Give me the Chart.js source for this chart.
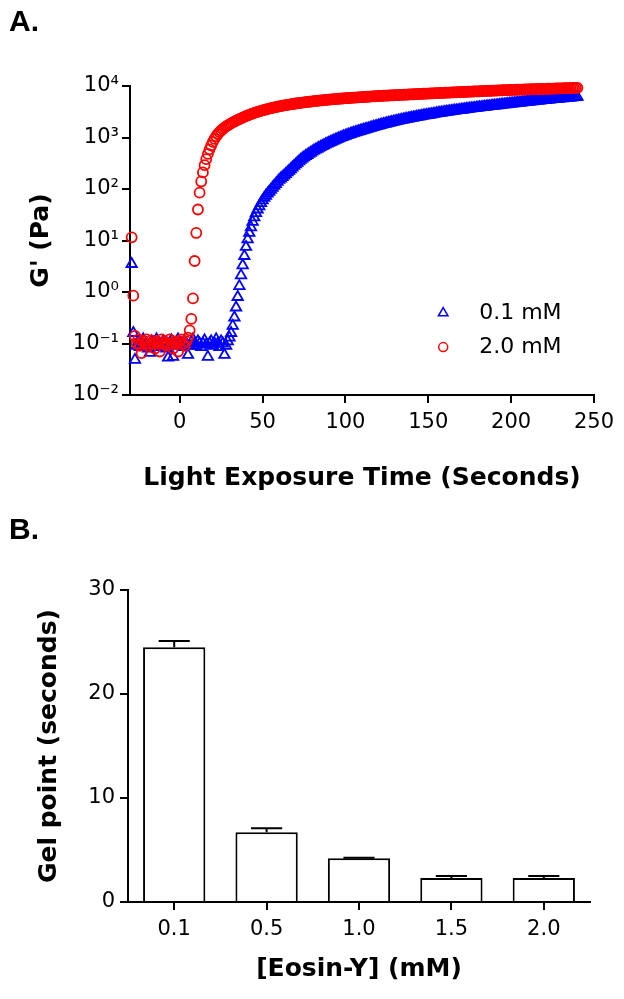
<!DOCTYPE html>
<html lang="en">
  <head>
    <meta charset="utf-8" />
    <title>gel kinetics</title>
    <script src="https://cdn.jsdelivr.net/npm/chart.js@4.4.1/dist/chart.umd.min.js"></script>
    <style>
      body { margin: 0; background: #fff; }
      #wrap { position: relative; width: 624px; height: 999px; overflow: hidden; }
      canvas { position: absolute; left: 0; }
      #chartA { top: 0; }
      #chartB { top: 500px; }
      .panel { position: absolute; left: 9px; font: bold 30px 'Liberation Sans', Arial, sans-serif; line-height: 30px; }
    </style>
  </head>
  <body>
    <div id="wrap">
      <canvas id="chartA" width="624" height="500"></canvas>
      <canvas id="chartB" width="624" height="499"></canvas>
      <div class="panel" style="top:6px">A.</div>
      <div class="panel" style="top:514px">B.</div>
    </div>

    <script>
      // panel A: storage modulus vs light exposure time
      const timeA = [
        -29, -28, -27, -26, -25, -24, -23, -22, -21, -20,
        -19, -18, -17, -16, -15, -14, -13, -12, -11, -10,
        -9, -8, -7, -6, -5, -4, -3, -2, -1, 0,
        1, 2, 3, 4, 5, 6, 7, 8, 9, 10,
        11, 12, 13, 14, 15, 16, 17, 18, 19, 20,
        21, 22, 23, 24, 25, 26, 27, 28, 29, 30,
        31, 32, 33, 34, 35, 36, 37, 38, 39, 40,
        41, 42, 43, 44, 45, 46, 47, 48, 49, 50,
        51, 52, 53, 54, 55, 56, 57, 58, 59, 60,
        61, 62, 63, 64, 65, 66, 67, 68, 69, 70,
        71, 72, 73, 74, 75, 76, 77, 78, 79, 80,
        81, 82, 83, 84, 85, 86, 87, 88, 89, 90,
        91, 92, 93, 94, 95, 96, 97, 98, 99, 100,
        101, 102, 103, 104, 105, 106, 107, 108, 109, 110,
        111, 112, 113, 114, 115, 116, 117, 118, 119, 120,
        121, 122, 123, 124, 125, 126, 127, 128, 129, 130,
        131, 132, 133, 134, 135, 136, 137, 138, 139, 140,
        141, 142, 143, 144, 145, 146, 147, 148, 149, 150,
        151, 152, 153, 154, 155, 156, 157, 158, 159, 160,
        161, 162, 163, 164, 165, 166, 167, 168, 169, 170,
        171, 172, 173, 174, 175, 176, 177, 178, 179, 180,
        181, 182, 183, 184, 185, 186, 187, 188, 189, 190,
        191, 192, 193, 194, 195, 196, 197, 198, 199, 200,
        201, 202, 203, 204, 205, 206, 207, 208, 209, 210,
        211, 212, 213, 214, 215, 216, 217, 218, 219, 220,
        221, 222, 223, 224, 225, 226, 227, 228, 229, 230,
        231, 232, 233, 234, 235, 236, 237, 238, 239, 240
      ];
      // 0.1 mM eosin-Y
      const gPrime01 = [
        3.5, 0.16, 0.048, 0.09, 0.11, 0.085, 0.1, 0.12, 0.09, 0.1,
        0.08, 0.066, 0.11, 0.095, 0.1, 0.12, 0.085, 0.1, 0.09, 0.11,
        0.1, 0.08, 0.053, 0.1, 0.115, 0.055, 0.09, 0.1, 0.12, 0.095,
        0.1, 0.085, 0.11, 0.1, 0.06, 0.09, 0.105, 0.12, 0.1, 0.09,
        0.11, 0.1, 0.085, 0.1, 0.115, 0.095, 0.055, 0.1, 0.11, 0.09,
        0.1, 0.12, 0.1, 0.085, 0.11, 0.1, 0.06, 0.09, 0.11, 0.13,
        0.16, 0.22, 0.32, 0.5, 0.8, 1.3, 2.1, 3.3, 5, 7.5,
        10.5, 14, 18, 23, 28, 34, 40, 46, 53, 60,
        67, 74, 81, 88, 96, 105, 115, 125, 137, 150,
        160, 170, 182, 195, 210, 225, 242, 260, 280, 300,
        322, 345, 367, 390, 412, 435, 457, 480, 505, 530,
        555, 580, 605, 630, 655, 680, 707, 735, 762, 790,
        817, 845, 872, 900, 930, 960, 990, 1020, 1050, 1080,
        1110, 1140, 1170, 1200, 1230, 1260, 1290, 1320, 1350, 1380,
        1410, 1440, 1470, 1500, 1535, 1570, 1605, 1640, 1675, 1710,
        1745, 1780, 1815, 1850, 1885, 1920, 1955, 1990, 2025, 2060,
        2095, 2130, 2165, 2200, 2235, 2270, 2305, 2340, 2375, 2410,
        2445, 2480, 2515, 2550, 2585, 2620, 2655, 2690, 2725, 2760,
        2795, 2830, 2865, 2900, 2935, 2970, 3005, 3040, 3075, 3110,
        3145, 3180, 3215, 3250, 3285, 3320, 3355, 3390, 3425, 3460,
        3495, 3530, 3565, 3600, 3635, 3670, 3705, 3740, 3775, 3810,
        3845, 3880, 3915, 3950, 3985, 4020, 4055, 4090, 4125, 4160,
        4195, 4230, 4265, 4300, 4340, 4380, 4420, 4460, 4500, 4540,
        4580, 4620, 4660, 4700, 4740, 4780, 4820, 4860, 4900, 4940,
        4980, 5020, 5060, 5100, 5140, 5180, 5220, 5260, 5300, 5340,
        5380, 5420, 5460, 5500, 5540, 5580, 5620, 5660, 5700, 5740,
        5780, 5820, 5860, 5900, 5940, 5980, 6020, 6060, 6100, 6140
      ];
      // 2.0 mM eosin-Y
      const gPrime20 = [
        11.5, 0.85, 0.14, 0.1, 0.12, 0.09, 0.065, 0.11, 0.1, 0.12,
        0.09, 0.1, 0.115, 0.1, 0.08, 0.11, 0.1, 0.07, 0.12, 0.1,
        0.11, 0.09, 0.1, 0.12, 0.1, 0.08, 0.11, 0.1, 0.07, 0.11,
        0.12, 0.1, 0.09, 0.11, 0.13, 0.18, 0.3, 0.75, 4, 14,
        40, 85, 140, 210, 290, 380, 480, 590, 700, 820,
        940, 1060, 1170, 1270, 1370, 1460, 1550, 1640, 1720, 1800,
        1880, 1960, 2040, 2120, 2200, 2280, 2360, 2440, 2520, 2600,
        2680, 2760, 2840, 2920, 3000, 3080, 3150, 3220, 3290, 3360,
        3430, 3500, 3570, 3640, 3705, 3770, 3835, 3900, 3960, 4020,
        4080, 4140, 4195, 4250, 4305, 4360, 4415, 4470, 4520, 4570,
        4620, 4670, 4720, 4770, 4815, 4860, 4905, 4950, 4995, 5040,
        5080, 5120, 5160, 5200, 5240, 5280, 5320, 5360, 5400, 5440,
        5475, 5510, 5545, 5580, 5615, 5650, 5685, 5720, 5755, 5790,
        5820, 5850, 5880, 5910, 5940, 5970, 6000, 6030, 6060, 6090,
        6120, 6150, 6180, 6210, 6240, 6270, 6300, 6330, 6360, 6390,
        6415, 6440, 6465, 6490, 6515, 6540, 6565, 6590, 6615, 6640,
        6665, 6690, 6715, 6740, 6765, 6790, 6815, 6840, 6865, 6890,
        6915, 6940, 6965, 6990, 7015, 7040, 7065, 7090, 7115, 7140,
        7165, 7190, 7215, 7240, 7265, 7290, 7315, 7340, 7365, 7390,
        7415, 7440, 7465, 7490, 7515, 7540, 7565, 7590, 7615, 7640,
        7665, 7690, 7715, 7740, 7765, 7790, 7815, 7840, 7865, 7890,
        7915, 7940, 7965, 7990, 8015, 8040, 8065, 8090, 8115, 8140,
        8165, 8190, 8215, 8240, 8265, 8290, 8315, 8340, 8365, 8390,
        8415, 8440, 8460, 8480, 8500, 8520, 8540, 8560, 8580, 8600,
        8620, 8640, 8660, 8680, 8700, 8720, 8740, 8760, 8780, 8800,
        8820, 8840, 8860, 8880, 8900, 8920, 8940, 8960, 8980, 9000,
        9020, 9040, 9060, 9080, 9100, 9120, 9140, 9160, 9180, 9200
      ];
      const xTicksA = [0, 50, 100, 150, 200, 250];
      const yTicksA = [0.01, 0.1, 1, 10, 100, 1000, 10000];

      // panel B: gel point vs eosin-Y concentration
      const concB = ['0.1', '0.5', '1.0', '1.5', '2.0'];
      const gelPoint = [24.5, 6.7, 4.2, 2.3, 2.3];
      const gelErr = [0.6, 0.4, 0.05, 0.2, 0.2];

      Chart.defaults.font.family = "'DejaVu Sans', sans-serif";
      Chart.defaults.color = '#000';

      const sup = { '-': '\u207B', '0': '\u2070', '1': '\u00B9', '2': '\u00B2', '3': '\u00B3', '4': '\u2074' };
      const powLabel = v => '10' + String(Math.round(Math.log10(v))).split('').map(c => sup[c]).join('');

      const axisLine = { display: true, color: '#000', width: 2 };
      const tickMarks = { drawOnChartArea: false, drawTicks: true, tickLength: 8, color: '#000', lineWidth: 2 };
      const titleFont = { size: 25, weight: 'bold' };

      // legend drawn inside the plot, below the curves
      const innerLegend = {
        id: 'innerLegend',
        afterDraw(chart) {
          const { ctx, chartArea: a } = chart;
          chart.data.datasets.forEach((ds, i) => {
            const x = a.left + 0.675 * (a.right - a.left);
            const y = a.top + (0.735 + 0.11 * i) * (a.bottom - a.top);
            ctx.save();
            ctx.strokeStyle = ds.borderColor;
            ctx.fillStyle = 'rgba(0,0,0,0)';
            ctx.lineWidth = 1.5;
            Chart.helpers.drawPoint(ctx, { pointStyle: ds.pointStyle, radius: ds.pointRadius - 0.5, borderWidth: 1.5, rotation: 0 }, x, y);
            ctx.fillStyle = '#000';
            ctx.font = "22px 'DejaVu Sans'";
            ctx.textBaseline = 'middle';
            ctx.fillText(ds.label, x + 36, y);
            ctx.restore();
          });
        }
      };

      new Chart(document.getElementById('chartA'), {
        type: 'scatter',
        data: {
          datasets: [{
            label: '0.1 mM',
            data: timeA.map((t, i) => ({ x: t, y: gPrime01[i] })),
            pointStyle: 'triangle',
            pointRadius: 6,
            borderColor: '#0000ff',
            backgroundColor: 'rgba(0,0,0,0)',
            borderWidth: 1.8,
            clip: false,
            order: 1
          }, {
            label: '2.0 mM',
            data: timeA.map((t, i) => ({ x: t, y: gPrime20[i] })),
            pointStyle: 'circle',
            pointRadius: 5,
            borderColor: '#ff0000',
            backgroundColor: 'rgba(0,0,0,0)',
            borderWidth: 1.8,
            clip: false,
            order: 0
          }]
        },
        plugins: [innerLegend],
        options: {
          responsive: false,
          animation: false,
          layout: { padding: { top: 86, right: 30, left: 0, bottom: 0 } },
          plugins: { legend: { display: false }, tooltip: { enabled: false } },
          scales: {
            x: {
              type: 'linear',
              min: -30,
              max: 250,
              afterBuildTicks: s => { s.ticks = xTicksA.map(v => ({ value: v })); },
              afterFit: s => { s.height = 105; },
              border: axisLine,
              grid: tickMarks,
              ticks: { font: { size: 21 }, padding: 7, maxRotation: 0 },
              title: { display: true, text: 'Light Exposure Time (Seconds)', font: titleFont, padding: { top: 0, bottom: 7 } }
            },
            y: {
              type: 'logarithmic',
              min: 0.01,
              max: 10000,
              afterBuildTicks: s => { s.ticks = yTicksA.map(v => ({ value: v })); },
              afterFit: s => { s.width = 130; },
              border: axisLine,
              grid: tickMarks,
              ticks: { font: { size: 21 }, padding: 3, callback: v => powLabel(v) },
              title: { display: true, text: "G' (Pa)", font: titleFont, padding: { top: 26, bottom: 0 } }
            }
          }
        }
      });

      // upward error bars with a cap, GraphPad style
      const errorBars = {
        id: 'errorBars',
        afterDatasetsDraw(chart) {
          const { ctx } = chart;
          const yScale = chart.scales.y;
          chart.getDatasetMeta(0).data.forEach((bar, i) => {
            const top = yScale.getPixelForValue(gelPoint[i] + gelErr[i]);
            const half = bar.width / 4;
            ctx.save();
            ctx.strokeStyle = '#000';
            ctx.lineWidth = 2;
            ctx.beginPath();
            ctx.moveTo(bar.x, bar.y);
            ctx.lineTo(bar.x, top);
            ctx.moveTo(bar.x - half, top);
            ctx.lineTo(bar.x + half, top);
            ctx.stroke();
            ctx.restore();
          });
        }
      };

      new Chart(document.getElementById('chartB'), {
        type: 'bar',
        data: {
          labels: concB,
          datasets: [{
            data: gelPoint,
            backgroundColor: '#fff',
            borderColor: '#000',
            borderWidth: 2,
            barPercentage: 0.674,
            categoryPercentage: 1
          }]
        },
        plugins: [errorBars],
        options: {
          responsive: false,
          animation: false,
          layout: { padding: { top: 90, right: 34, left: 0, bottom: 0 } },
          plugins: { legend: { display: false }, tooltip: { enabled: false } },
          scales: {
            x: {
              afterFit: s => { s.height = 97; },
              border: axisLine,
              grid: Object.assign({ offset: false }, tickMarks),
              ticks: { font: { size: 21 }, padding: 7, maxRotation: 0 },
              title: { display: true, text: '[Eosin-Y] (mM)', font: titleFont, padding: { top: 0, bottom: 15 } }
            },
            y: {
              min: 0,
              max: 30,
              afterFit: s => { s.width = 128; },
              border: axisLine,
              grid: tickMarks,
              ticks: { font: { size: 21 }, padding: 5, stepSize: 10 },
              title: { display: true, text: 'Gel point (seconds)', font: titleFont, padding: { top: 34, bottom: 0 } }
            }
          }
        }
      });
    </script>
  </body>
</html>
